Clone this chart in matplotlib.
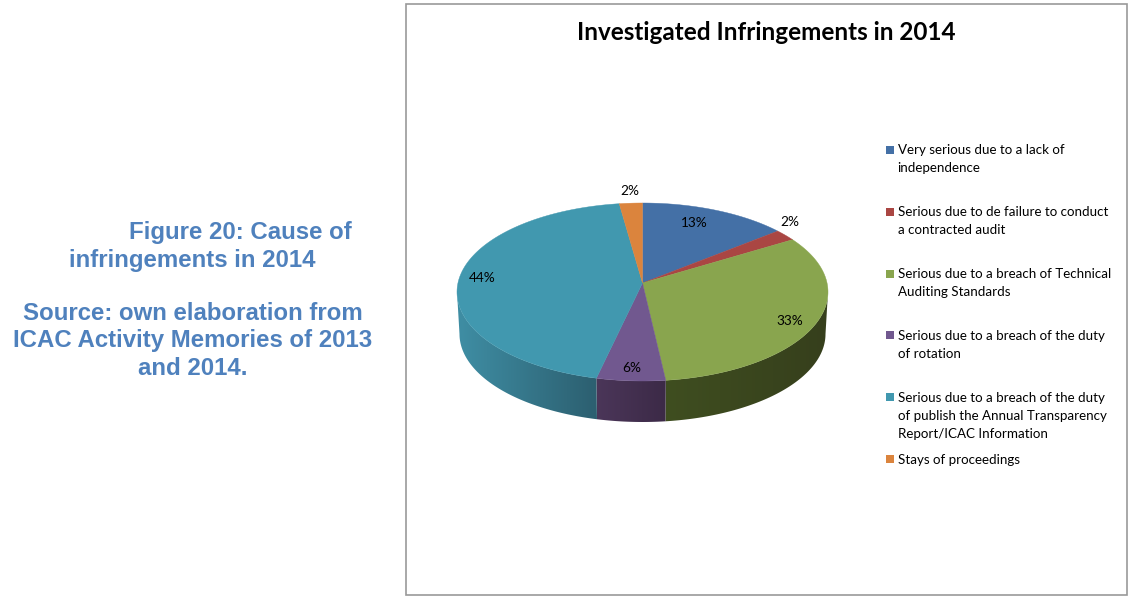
import numpy as np
import matplotlib
matplotlib.use("Agg")
import matplotlib.pyplot as plt
from matplotlib.colors import LinearSegmentedColormap
from matplotlib.patches import Polygon, Rectangle

labels = [
    "Very serious due to a lack of\nindependence",
    "Serious due to de failure to conduct\na contracted audit",
    "Serious due to a breach of Technical\nAuditing Standards",
    "Serious due to a breach of the duty\nof rotation",
    "Serious due to a breach of the duty\nof publish the Annual Transparency\nReport/ICAC Information",
    "Stays of proceedings",
]
shares = [13, 2, 33, 6, 44, 2]
top_colors = ["#4470a6", "#aa4643", "#89a54e", "#71588f", "#4198af", "#db843d"]
side_shades = [
    ("#2d4a6e", "#2d4a6e"),
    ("#6e2d2b", "#6e2d2b"),
    ("#3f4e20", "#363f1c"),
    ("#4b3659", "#3c2a47"),
    ("#3f8ea4", "#2c5f70"),
    ("#8e5628", "#8e5628"),
]
title = "Investigated Infringements in 2014"
caption = [
    "Figure 20: Cause of",
    "infringements in 2014",
    "",
    "Source: own elaboration from",
    "ICAC Activity Memories of 2013",
    "and 2014.",
]
caption_x = [240, 192, 0, 192.5, 192.5, 192.5]

W, H = 1133, 596
# pie geometry in pixels, the apex sits above the rim centre because of the tilt
cx, cy, rx, ry = 642.5, 292, 185.5, 89
apex_y = 283
depth, rx_low, ry_low = 42, 183, 88

plt.rcParams['font.family'] = ['Lato', 'DejaVu Sans']
fig = plt.figure(figsize=(W / 100, H / 100), dpi=100)
ax = fig.add_axes([0, 0, 1, 1])
ax.set_xlim(0, W)
ax.set_ylim(H, 0)
ax.axis("off")

ax.add_patch(Rectangle((406, 4), 721, 591, fc="white", ec="#999999", lw=1.2))


def rim(a, low=False):
    if low:
        return cx + rx_low * np.sin(a), cy + depth + ry_low * -np.cos(a)
    return cx + rx * np.sin(a), cy - ry * np.cos(a)


edges = np.radians(np.cumsum([0] + shares) * 3.6)

# side wall first, only the front half of the pie shows
for i in range(len(shares)):
    a0 = max(edges[i], np.pi / 2)
    a1 = min(edges[i + 1], 3 * np.pi / 2)
    if a1 <= a0:
        continue
    a = np.linspace(a0, a1, 80)
    xt, yt = rim(a)
    xb, yb = rim(a[::-1], low=True)
    poly = Polygon(np.column_stack([np.r_[xt, xb], np.r_[yt, yb]]), fc="none", ec="none")
    ax.add_patch(poly)
    left, right = side_shades[i]
    cmap = LinearSegmentedColormap.from_list("side", [left, right])
    x0, x1 = min(xt.min(), xb.min()), max(xt.max(), xb.max())
    im = ax.imshow(np.linspace(0, 1, 128)[None, :], cmap=cmap, aspect="auto",
                   extent=[x0, x1, yb.max() + 2, yt.min() - 2], zorder=1)
    im.set_clip_path(poly)
ax.set_xlim(0, W)
ax.set_ylim(H, 0)

# top face
for i, c in enumerate(top_colors):
    a = np.linspace(edges[i], edges[i + 1], 120)
    xs, ys = rim(a)
    pts = np.column_stack([np.r_[cx, xs], np.r_[apex_y, ys]])
    ax.add_patch(Polygon(pts, fc=c, ec=c, lw=0.3, zorder=2))

pct_pos = [(694, 223), (790, 222), (790, 321), (632, 368), (482, 278), (630, 191)]
for s, (x, y) in zip(shares, pct_pos):
    ax.text(x, y, f"{s}%", ha="center", va="center", fontsize=9.8, color="black", zorder=3)

ax.text(766.5, 33, title, ha="center", va="center", fontsize=17.45, weight="bold", color="black")

# legend, drawn by hand since rows keep an even pitch whatever their line count
for i, (lab, c) in enumerate(zip(labels, top_colors)):
    y = 150 + i * 61.8
    ax.add_patch(Rectangle((886, y - 4), 8, 8, fc=c, ec="none"))
    ax.text(897.5, y - 5.5, lab, ha="left", va="top", fontsize=9.65, color="black", linespacing=1.6)

line_y = [232, 260, 286.5, 313.5, 340.5, 368.5]
for line, x, y in zip(caption, caption_x, line_y):
    ax.text(x, y, line, ha="center", va="center", fontsize=17.3, weight="bold",
            color="#4f81bd", family="Liberation Sans")

fig.savefig("out.png", dpi=100)
